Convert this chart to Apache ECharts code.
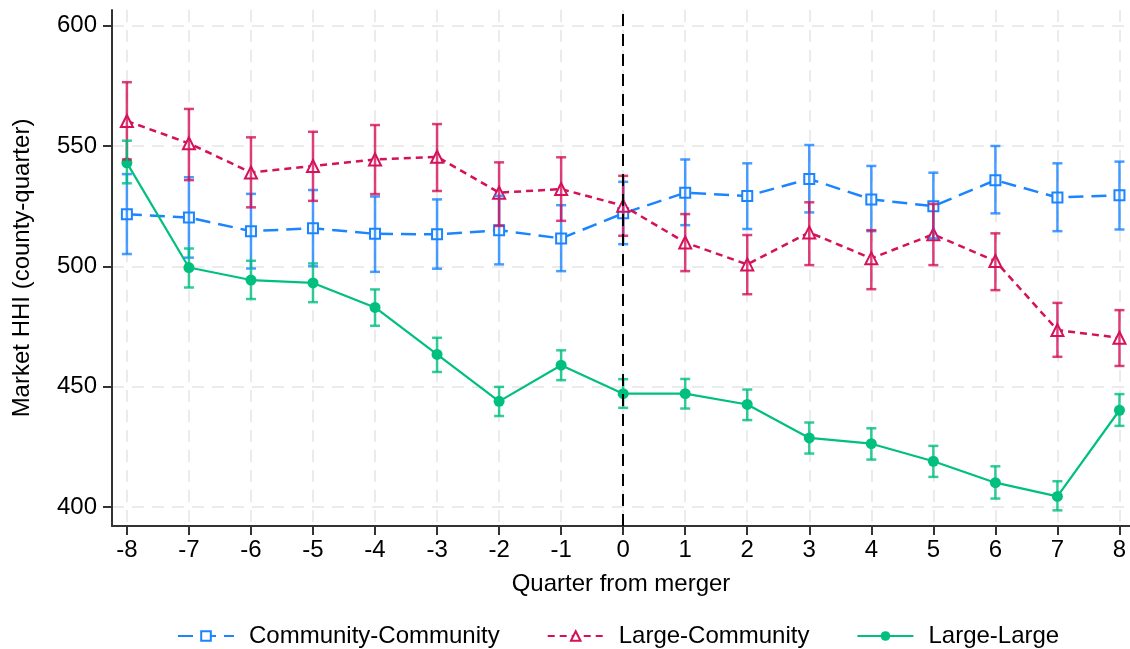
<!DOCTYPE html>
<html>
<head>
<meta charset="utf-8">
<script src="https://cdn.jsdelivr.net/npm/echarts@6/dist/echarts.min.js"></script>
<style>
  html, body { margin: 0; padding: 0; background: #ffffff; }
  #chart { width: 1130px; height: 649px; }
</style>
</head>
<body>
<div id="chart"></div>
<script>
// Quarters relative to the merger quarter
const quarters = [-8, -7, -6, -5, -4, -3, -2, -1, 0, 1, 2, 3, 4, 5, 6, 7, 8];
const yTicks = [400, 450, 500, 550, 600];

// Community-Community mergers: mean market HHI and 95% CI
const ccMean = [521.6, 520.3, 514.6, 515.8, 513.5, 513.3, 515.0, 511.6, 522.0, 530.6, 529.2, 536.3, 527.8, 525.0, 535.8, 528.6, 529.5];
const ccLow  = [505.1, 503.6, 499.1, 500.0, 497.7, 499.0, 500.8, 498.0, 509.2, 517.1, 515.5, 522.4, 514.6, 511.6, 522.0, 514.6, 515.3];
const ccHigh = [538.3, 537.0, 530.1, 531.7, 529.0, 527.8, 529.3, 525.4, 535.1, 544.4, 542.8, 550.4, 541.7, 538.9, 550.0, 542.8, 543.5];

// Large-Community mergers
const lcMean = [560.4, 551.1, 539.0, 541.7, 544.4, 545.5, 530.6, 532.1, 525.2, 509.9, 500.8, 514.1, 503.3, 513.3, 502.2, 473.5, 470.3];
const lcLow  = [544.4, 535.8, 524.5, 527.2, 530.0, 531.3, 516.8, 518.9, 512.7, 498.0, 488.4, 500.5, 490.5, 500.5, 490.1, 462.4, 458.6];
const lcHigh = [576.5, 565.4, 553.6, 555.9, 558.7, 559.1, 543.2, 545.3, 537.6, 521.7, 513.0, 526.6, 515.0, 525.9, 513.7, 484.8, 481.8];

// Large-Large mergers
const llMean = [543.0, 499.5, 494.3, 493.1, 482.9, 463.4, 443.9, 458.9, 447.1, 447.1, 442.6, 428.7, 426.3, 419.0, 410.1, 404.4, 440.2];
const llLow  = [534.5, 491.2, 486.4, 485.1, 475.3, 456.1, 437.8, 452.7, 441.2, 440.9, 436.1, 422.2, 419.7, 412.5, 403.5, 398.6, 433.7];
const llHigh = [552.2, 507.4, 502.3, 501.2, 490.4, 470.3, 449.9, 465.1, 453.1, 453.2, 448.8, 435.1, 432.7, 425.4, 416.9, 410.7, 446.9];

const BLUE = '#1a85ff';
const RED = '#d41159';
const GREEN = '#00bf7f';
const AXIS = '#333333';
const FONT = '"Liberation Sans", Arial, Helvetica, sans-serif';

const pairs = (vals) => quarters.map((q, i) => [q, vals[i]]);
const ciRows = (lo, hi) => quarters.map((q, i) => [q, lo[i], hi[i]]);

// Vertical CI whisker with caps at both ends
function whisker(color) {
  return function (params, api) {
    const x = api.value(0);
    const lo = api.coord([x, api.value(1)]);
    const hi = api.coord([x, api.value(2)]);
    const half = 5;
    const style = { stroke: color, lineWidth: 2.5, opacity: 0.8 };
    return {
      type: 'group',
      children: [
        { type: 'line', shape: { x1: lo[0], y1: lo[1], x2: hi[0], y2: hi[1] }, style },
        { type: 'line', shape: { x1: lo[0] - half, y1: lo[1], x2: lo[0] + half, y2: lo[1] }, style },
        { type: 'line', shape: { x1: hi[0] - half, y1: hi[1], x2: hi[0] + half, y2: hi[1] }, style }
      ]
    };
  };
}

function ciSeries(lo, hi, color) {
  return {
    type: 'custom',
    renderItem: whisker(color),
    data: ciRows(lo, hi),
    encode: { x: 0, y: [1, 2] },
    z: 4,
    silent: true
  };
}

const chart = echarts.init(document.getElementById('chart'), null, { renderer: 'canvas' });

chart.setOption({
  backgroundColor: '#ffffff',
  animation: false,
  textStyle: { fontFamily: FONT },
  grid: { left: 112, right: 0, top: 10, bottom: 123, containLabel: false },
  legend: {
    data: ['Community-Community', 'Large-Community', 'Large-Large'],
    left: 172,
    bottom: -4,
    itemWidth: 56,
    itemHeight: 12,
    itemGap: 47,
    textStyle: { fontSize: 24, color: '#000', fontFamily: FONT, padding: [0, 0, 0, 10] }
  },
  xAxis: {
    type: 'value',
    min: -8.24,
    max: 8.17,
    name: 'Quarter from merger',
    nameLocation: 'middle',
    nameGap: 46,
    nameTextStyle: { fontSize: 24, color: '#000', fontFamily: FONT },
    axisLine: { onZero: false, lineStyle: { color: AXIS, width: 2 } },
    axisTick: { show: true, length: 9, customValues: quarters, lineStyle: { color: AXIS, width: 2 } },
    axisLabel: { customValues: quarters, fontSize: 24, color: '#000', margin: 12, fontFamily: FONT },
    splitLine: { show: true, lineStyle: { color: '#ebebeb', width: 2, type: [12, 8] } }
  },
  yAxis: {
    type: 'value',
    min: 392.1,
    max: 606.5,
    name: 'Market HHI (county-quarter)',
    nameLocation: 'middle',
    nameGap: 78,
    nameTextStyle: { fontSize: 24, color: '#000', fontFamily: FONT },
    axisLine: { show: true, onZero: false, lineStyle: { color: AXIS, width: 2 } },
    axisTick: { show: true, length: 9, customValues: yTicks, lineStyle: { color: AXIS, width: 2 } },
    axisLabel: { customValues: yTicks, fontSize: 24, color: '#000', margin: 15, fontFamily: FONT },
    splitLine: { show: true, lineStyle: { color: '#ebebeb', width: 2, type: [12, 8] } }
  },
  series: [
    {
      name: 'Community-Community',
      type: 'line',
      data: pairs(ccMean),
      symbol: 'emptyRect',
      symbolSize: 10,
      color: BLUE,
      itemStyle: { color: BLUE, borderWidth: 2 },
      lineStyle: { color: BLUE, width: 2.5, type: [15, 8] },
      z: 3,
      markLine: {
        silent: true,
        symbol: 'none',
        label: { show: false },
        lineStyle: { color: '#000', width: 2, type: [12, 8] },
        data: [{ xAxis: 0 }]
      }
    },
    {
      name: 'Large-Community',
      type: 'line',
      data: pairs(lcMean),
      symbol: 'emptyTriangle',
      symbolSize: 12,
      color: RED,
      itemStyle: { color: RED, borderWidth: 2 },
      lineStyle: { color: RED, width: 2.5, type: [7, 5] },
      z: 3
    },
    {
      name: 'Large-Large',
      type: 'line',
      data: pairs(llMean),
      symbol: 'circle',
      symbolSize: 11,
      color: GREEN,
      itemStyle: { color: GREEN },
      lineStyle: { color: GREEN, width: 2.2 },
      z: 3
    },
    ciSeries(ccLow, ccHigh, BLUE),
    ciSeries(lcLow, lcHigh, RED),
    ciSeries(llLow, llHigh, GREEN)
  ]
});
</script>
</body>
</html>
